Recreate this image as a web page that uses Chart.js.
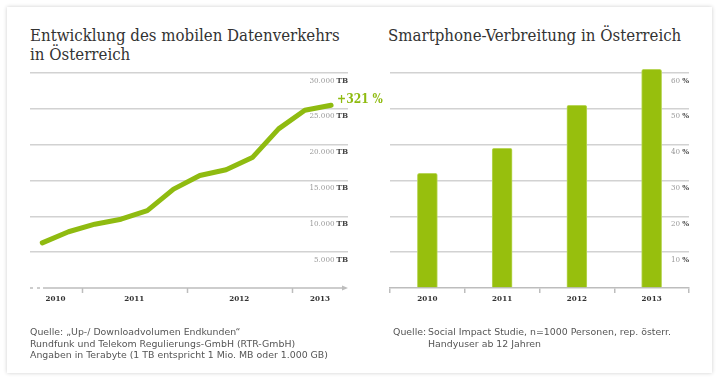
<!DOCTYPE html>
<html>
<head>
<meta charset="utf-8">
<script src="https://cdn.jsdelivr.net/npm/chart.js@4.4.1/dist/chart.umd.min.js"></script>
<style>
  html, body { margin: 0; padding: 0; background: #fff; }
  body { width: 720px; height: 382px; position: relative; overflow: hidden; }
  .panel { position: absolute; left: 7px; top: 7px; width: 705px; height: 366px; background: #fff;
           box-shadow: 0 0 4px rgba(0,0,0,0.2); }
  .title { position: absolute; font-family: "DejaVu Serif Condensed", "DejaVu Serif", serif; font-weight: 300;
           font-size: 16.7px; line-height: 19px; color: #333; }
  .source { position: absolute; font-family: "DejaVu Sans", sans-serif; font-size: 9.4px; line-height: 11.5px; color: #555; }
  canvas { position: absolute; top: 0; }
</style>
</head>
<body>
<div class="panel"></div>
<div class="title" style="left:30px; top:26px;">Entwicklung des mobilen Datenverkehrs<br>in Österreich</div>
<div class="title" style="left:388px; top:26px;">Smartphone-Verbreitung in Österreich</div>
<canvas id="traffic" width="384" height="382" style="left:0"></canvas>
<canvas id="smartphones" width="336" height="382" style="left:384px"></canvas>
<div class="source" style="left:30px; top:326px;">Quelle: „Up-/ Downloadvolumen Endkunden“<br>Rundfunk und Telekom Regulierungs-GmbH (RTR-GmbH)<br>Angaben in Terabyte (1 TB entspricht 1 Mio. MB oder 1.000 GB)</div>
<div class="source" style="left:393px; top:326px; display:flex;"><span style="width:35px">Quelle:</span><span>Social Impact Studie, n=1000 Personen, rep. österr.<br>Handyuser ab 12 Jahren</span></div>
<script>
// mobile data traffic per quarter (Q3 2010 .. Q2 2013), in TB
const quarterPos = [2010.625, 2010.875, 2011.125, 2011.375, 2011.625, 2011.875,
                    2012.125, 2012.375, 2012.625, 2012.875, 2013.125, 2013.375];
const trafficTB = [6300, 7850, 8900, 9600, 10800, 13800, 15700, 16500, 18200, 22200, 24800, 25500];
const growthLabel = '+321 %';
const yearLabels = ['2010', '2011', '2012', '2013'];
const yearLabelPos = [2010.75, 2011.5, 2012.5, 2013.27];
const yearBounds = [2011, 2012, 2013];

// smartphone share
const smartYears = ['2010', '2011', '2012', '2013'];
const smartShare = [32, 39, 51, 61];

const SERIF = '"DejaVu Serif Condensed", "DejaVu Serif", serif';
const GREEN = '#8fbb10';
const AXIS = '#bdbdbd';
const GRID = '#d2d2d2';

const fmtThousands = (v) => String(v).replace(/\B(?=(\d{3})+(?!\d))/g, '.');

// y tick labels: grey number, bold unit, right aligned below each grid line
function unitLabels(unit, fmt) {
    return {
        id: 'unitLabels',
        afterDraw(chart) {
            const s = chart.scales.y;
            const ctx = chart.ctx;
            const right = chart.chartArea.right;
            ctx.save();
            ctx.textBaseline = 'middle';
            ctx.textAlign = 'right';
            s.ticks.forEach((t) => {
                if (t.value === 0) return;
                const y = s.getPixelForValue(t.value) + 7.5;
                ctx.font = 'bold 8px ' + SERIF;
                const uw = ctx.measureText(unit).width;
                ctx.fillStyle = '#444';
                ctx.fillText(unit, right, y);
                ctx.font = '8px ' + SERIF;
                ctx.fillStyle = '#9a9a9a';
                ctx.fillText(fmt(t.value), right - uw - 2, y);
            });
            ctx.restore();
        }
    };
}

// x axis with dashed start, arrow head and year boundary ticks
const arrowAxis = {
    id: 'arrowAxis',
    beforeDatasetsDraw(chart) {
        const { left, right, bottom } = chart.chartArea;
        const ctx = chart.ctx;
        const x = chart.scales.x;
        ctx.save();
        ctx.strokeStyle = AXIS;
        ctx.fillStyle = AXIS;
        ctx.lineWidth = 1.5;
        ctx.setLineDash([3, 4]);
        ctx.beginPath();
        ctx.moveTo(left, bottom);
        ctx.lineTo(left + 12, bottom);
        ctx.stroke();
        ctx.setLineDash([]);
        ctx.beginPath();
        ctx.moveTo(left + 13, bottom);
        ctx.lineTo(right - 4, bottom);
        ctx.stroke();
        ctx.beginPath();
        ctx.moveTo(right - 6, bottom - 2.5);
        ctx.lineTo(right, bottom);
        ctx.lineTo(right - 6, bottom + 2.5);
        ctx.closePath();
        ctx.fill();
        yearBounds.forEach((yr) => {
            const px = Math.round(x.getPixelForValue(yr)) + 0.5;
            ctx.beginPath();
            ctx.moveTo(px, bottom);
            ctx.lineTo(px, bottom + 5);
            ctx.stroke();
        });
        ctx.restore();
    }
};

// growth label next to the last point
const growthTag = {
    id: 'growthTag',
    afterDatasetsDraw(chart) {
        const pts = chart.getDatasetMeta(0).data;
        const last = pts[pts.length - 1];
        const ctx = chart.ctx;
        ctx.save();
        ctx.font = 'bold 12px ' + SERIF;
        ctx.fillStyle = GREEN;
        ctx.textBaseline = 'middle';
        ctx.fillText(growthLabel, last.x + 6, last.y - 5);
        ctx.restore();
    }
};

const hideZero = (c) => (c.tick.value === 0 ? 'rgba(0,0,0,0)' : GRID);

new Chart(document.getElementById('traffic'), {
    type: 'line',
    data: {
        datasets: [{
            data: quarterPos.map((q, i) => ({ x: q, y: trafficTB[i] })),
            borderColor: GREEN,
            borderWidth: 5,
            borderJoinStyle: 'round',
            borderCapStyle: 'round',
            pointRadius: 0,
            tension: 0,
            clip: false
        }]
    },
    options: {
        responsive: false,
        animation: false,
        layout: { padding: { left: 30, top: 73, right: 36, bottom: 64 } },
        plugins: { legend: { display: false }, tooltip: { enabled: false } },
        scales: {
            x: {
                type: 'linear', display: false,
                min: 2010.508, max: 2013.536
            },
            xl: {
                type: 'linear', position: 'bottom',
                min: 2010.508, max: 2013.536,
                grid: { display: false, drawTicks: false },
                border: { display: false },
                afterBuildTicks: (s) => { s.ticks = yearLabelPos.map((v) => ({ value: v })); },
                afterFit: (s) => { s.height = 30; },
                ticks: {
                    autoSkip: false, maxRotation: 0, padding: 6,
                    color: '#333',
                    font: { family: SERIF, size: 8, weight: 'bold' },
                    callback: (v, i) => yearLabels[i]
                }
            },
            y: {
                position: 'right',
                min: 0, max: 30000,
                ticks: { display: false, stepSize: 5000 },
                grid: { color: hideZero, lineWidth: 1.5, drawTicks: false },
                border: { display: false },
                afterFit: (s) => { s.width = 0; }
            }
        }
    },
    plugins: [arrowAxis, growthTag, unitLabels('TB', fmtThousands)]
});

new Chart(document.getElementById('smartphones'), {
    type: 'bar',
    data: {
        labels: smartYears,
        datasets: [{
            data: smartShare,
            backgroundColor: '#97bf0d',
            borderColor: '#b9d65a',
            borderWidth: 1,
            borderRadius: 2,
            borderSkipped: 'bottom',
            barThickness: 20,
            clip: false
        }]
    },
    options: {
        responsive: false,
        animation: false,
        layout: { padding: { left: 6, top: 73, right: 31, bottom: 64 } },
        plugins: { legend: { display: false }, tooltip: { enabled: false } },
        scales: {
            x: {
                grid: { drawOnChartArea: false, color: AXIS, lineWidth: 1.5, tickLength: 5 },
                border: { color: AXIS, width: 1.5 },
                afterFit: (s) => { s.height = 30; },
                ticks: {
                    padding: 1, color: '#333',
                    font: { family: SERIF, size: 8, weight: 'bold' }
                }
            },
            y: {
                position: 'right',
                min: 0, max: 60,
                ticks: { display: false, stepSize: 10 },
                grid: { color: hideZero, lineWidth: 1.5, drawTicks: false },
                border: { display: false },
                afterFit: (s) => { s.width = 0; }
            }
        }
    },
    plugins: [unitLabels('%', (v) => String(v))]
});
</script>
</body>
</html>
